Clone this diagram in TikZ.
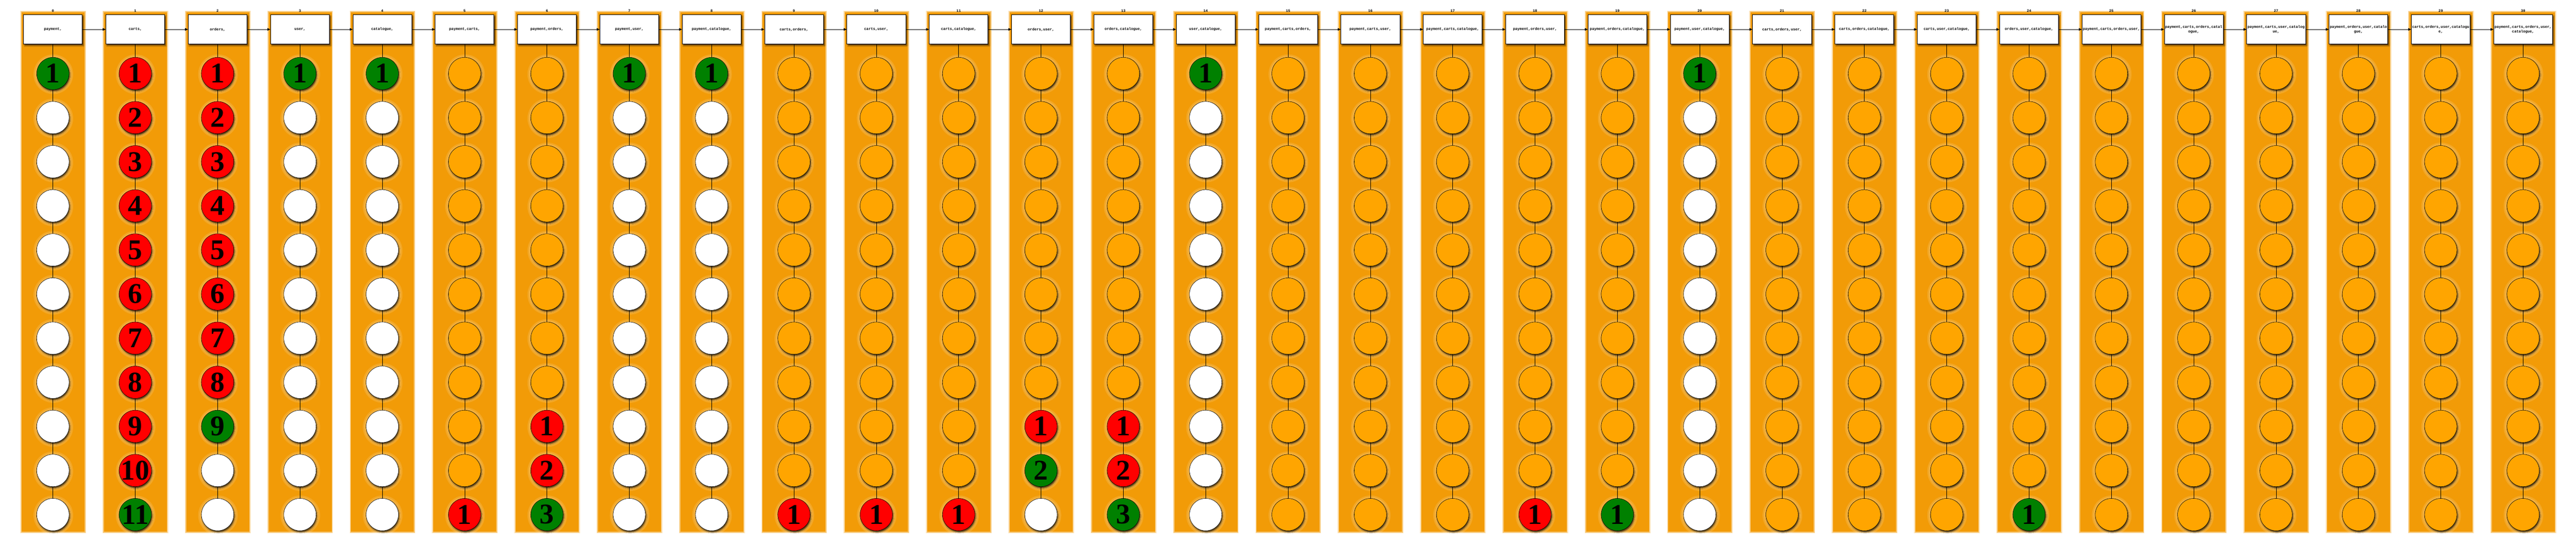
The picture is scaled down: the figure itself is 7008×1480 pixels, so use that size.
\documentclass[tikz,border=0pt]{standalone}
\usepackage{fontspec}
\setmainfont{Liberation Serif}
\newfontfamily\lblfam{Liberation Mono}
\newfontfamily\digfam{Liberation Serif}
\usetikzlibrary{arrows.meta,shadows.blur}
\definecolor{clusfill}{RGB}{242,155,7}
\definecolor{nodeOr}{RGB}{255,165,0}
\definecolor{nodeGr}{RGB}{0,128,0}
\definecolor{nodeRd}{RGB}{255,0,0}
\definecolor{nodeWh}{RGB}{255,255,255}
% cell patterns (fill/number), rows 1..11
\def\LA{nodeGr/1,nodeWh/{},nodeWh/{},nodeWh/{},nodeWh/{},nodeWh/{},nodeWh/{},nodeWh/{},nodeWh/{},nodeWh/{},nodeWh/{}}
\def\LB{nodeRd/1,nodeRd/2,nodeRd/3,nodeRd/4,nodeRd/5,nodeRd/6,nodeRd/7,nodeRd/8,nodeRd/9,nodeRd/10,nodeGr/11}
\def\LC{nodeRd/1,nodeRd/2,nodeRd/3,nodeRd/4,nodeRd/5,nodeRd/6,nodeRd/7,nodeRd/8,nodeGr/9,nodeWh/{},nodeWh/{}}
\def\LD{nodeOr/{},nodeOr/{},nodeOr/{},nodeOr/{},nodeOr/{},nodeOr/{},nodeOr/{},nodeOr/{},nodeOr/{},nodeOr/{},nodeRd/1}
\def\LE{nodeOr/{},nodeOr/{},nodeOr/{},nodeOr/{},nodeOr/{},nodeOr/{},nodeOr/{},nodeOr/{},nodeRd/1,nodeRd/2,nodeGr/3}
\def\LF{nodeOr/{},nodeOr/{},nodeOr/{},nodeOr/{},nodeOr/{},nodeOr/{},nodeOr/{},nodeOr/{},nodeRd/1,nodeGr/2,nodeWh/{}}
\def\LG{nodeOr/{},nodeOr/{},nodeOr/{},nodeOr/{},nodeOr/{},nodeOr/{},nodeOr/{},nodeOr/{},nodeOr/{},nodeOr/{},nodeOr/{}}
\def\LH{nodeOr/{},nodeOr/{},nodeOr/{},nodeOr/{},nodeOr/{},nodeOr/{},nodeOr/{},nodeOr/{},nodeOr/{},nodeOr/{},nodeGr/1}
\tikzset{
  colnum/.style={font=\lblfam\bfseries\fontsize{10}{12}\selectfont, inner sep=0pt},
  boxst/.style={draw=black, line width=1.2bp, fill=white, minimum width=160bp, minimum height=80bp,
    inner sep=0pt, align=center, font=\lblfam\bfseries\fontsize{10}{13}\selectfont,
    blur shadow={shadow xshift=3bp, shadow yshift=-4bp, shadow opacity=65, shadow blur radius=3bp}},
  circst/.style={circle, draw=black, line width=0.8bp, minimum size=88bp, inner sep=0pt,
    blur shadow={shadow xshift=2bp, shadow yshift=-4bp, shadow opacity=70, shadow blur radius=3bp}},
  digst/.style={inner sep=0pt, font=\digfam\bfseries\fontsize{78}{78}\selectfont, text=black},
  lnk/.style={draw=black, line width=0.8bp},
  arr/.style={draw=black, line width=1bp, -{Triangle[length=8bp,width=7bp]}},
  halo/.style={fill=white, opacity=0.12}
}
\newcommand\mycol[3]{%
  \pgfmathsetmacro\cx{144+224*#1}%
  \fill[clusfill,opacity=.25] (\cx-89,29) rectangle (\cx+90,1451);
  \fill[clusfill,opacity=.45] (\cx-87,31) rectangle (\cx+88,1449);
  \fill[clusfill] (\cx-85,33) rectangle (\cx+86,1447);
  \node[colnum] (t#1) at (\cx,30) {#1};
  \node[boxst] (b#1) at (\cx,80) {#2};
  \foreach \cc/\nn [count=\r] in #3 {
    \fill[halo] (\cx+1,{200+120*(\r-1)+2}) circle[radius=54bp];
    \fill[halo] (\cx+1,{200+120*(\r-1)+2}) circle[radius=50bp];
    \node[circst, fill=\cc, label={[digst]center:\nn}] (c#1-\r) at (\cx,{200+120*(\r-1)}) {};
  }
  \draw[lnk] (b#1) -- (c#1-1);
  \foreach \r [evaluate=\r as \s using int(\r+1)] in {1,...,10} {\draw[lnk] (c#1-\r) -- (c#1-\s);}
}
\begin{document}
\begin{tikzpicture}[x=1bp,y=-1bp]
\useasboundingbox (0,0) rectangle (7008,1480);
\mycol{0}{payment,}{\LA}
\mycol{1}{carts,}{\LB}
\mycol{2}{orders,}{\LC}
\mycol{3}{user,}{\LA}
\mycol{4}{catalogue,}{\LA}
\mycol{5}{payment,carts,}{\LD}
\mycol{6}{payment,orders,}{\LE}
\mycol{7}{payment,user,}{\LA}
\mycol{8}{payment,catalogue,}{\LA}
\mycol{9}{carts,orders,}{\LD}
\mycol{10}{carts,user,}{\LD}
\mycol{11}{carts,catalogue,}{\LD}
\mycol{12}{orders,user,}{\LF}
\mycol{13}{orders,catalogue,}{\LE}
\mycol{14}{user,catalogue,}{\LA}
\mycol{15}{payment,carts,orders,}{\LG}
\mycol{16}{payment,carts,user,}{\LG}
\mycol{17}{payment,carts,catalogue,}{\LG}
\mycol{18}{payment,orders,user,}{\LD}
\mycol{19}{payment,orders,catalogue,}{\LH}
\mycol{20}{payment,user,catalogue,}{\LA}
\mycol{21}{carts,orders,user,}{\LG}
\mycol{22}{carts,orders,catalogue,}{\LG}
\mycol{23}{carts,user,catalogue,}{\LG}
\mycol{24}{orders,user,catalogue,}{\LH}
\mycol{25}{payment,carts,orders,user,}{\LG}
\mycol{26}{payment,carts,orders,catal\\ogue,}{\LG}
\mycol{27}{payment,carts,user,catalog\\ue,}{\LG}
\mycol{28}{payment,orders,user,catalo\\gue,}{\LG}
\mycol{29}{carts,orders,user,catalogu\\e,}{\LG}
\mycol{30}{payment,carts,orders,user,\\catalogue,}{\LG}
\foreach \i [evaluate=\i as \j using int(\i+1)] in {0,...,29} {\draw[arr] (b\i) -- (b\j);}
\end{tikzpicture}
\end{document}
